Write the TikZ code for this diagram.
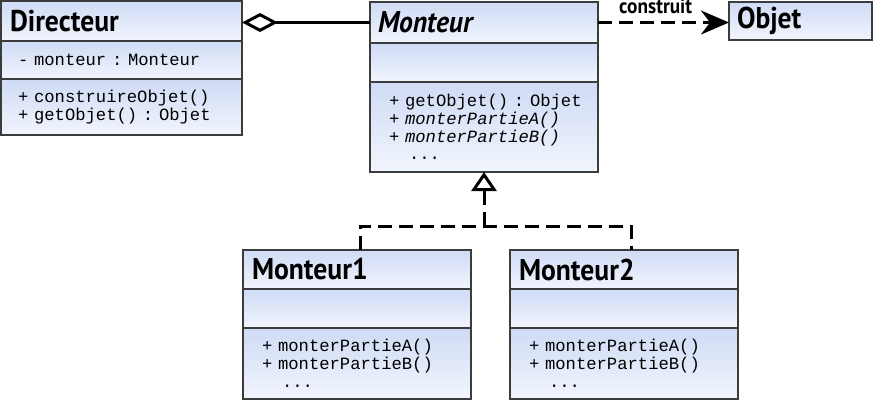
\documentclass[tikz,border=0pt]{standalone}
\usepackage{fontspec}
\usetikzlibrary{positioning, arrows.meta}

\setmonofont{Liberation Mono}
\newfontfamily\umlsans[FakeStretch=0.92]{PT Sans}
\newcommand\membersfont{\ttfamily\frenchspacing\fontsize{17.2}{17.8}\selectfont}
\definecolor{partblue}{RGB}{207,219,245}
\definecolor{partlight}{RGB}{241,245,253}
\definecolor{umlline}{RGB}{60,60,60}

\begin{document}
\begin{tikzpicture}[
    x=1pt, y=-1pt,
    node distance=0pt,
    part/.style = {draw=umlline, line width=1.2pt, top color=partblue, bottom color=partlight,
                   inner ysep=0pt, outer sep=0pt, align=left},
    classname/.style = {part, font=\umlsans\bfseries\fontsize{30}{32}\selectfont},
    members/.style = {part, font=\membersfont},
    dashline/.style = {line width=3pt, dash pattern=on 14pt off 7pt}
]
    \useasboundingbox (0,0) rectangle (873,401);

    % Directeur
    \node [classname, anchor=north west, minimum width=241pt, minimum height=40pt,
           text width=223pt, inner xsep=9pt] (dirT) at (1,1) {Directeur};
    \node [members, below=of dirT, minimum width=241pt, minimum height=38pt,
           text width=207pt, inner xsep=17pt] (dirA) {- monteur : Monteur};
    \node [members, below=of dirA, minimum width=241pt, minimum height=56pt,
           text width=207pt, inner xsep=17pt] (dirM)
          {+ construireObjet()\\ \mbox{+ getObjet() : Objet}};

    % Monteur
    \node [classname, anchor=north west, minimum width=228pt, minimum height=41pt,
           text width=212pt, inner xsep=8pt] (montT) at (370,2) {\itshape Monteur};
    \node [members, below=of montT, minimum width=228pt, minimum height=39pt,
           text width=212pt, inner xsep=8pt] (montA) {};
    \node [members, below=of montA, minimum width=228pt, minimum height=90pt,
           text width=190pt, inner xsep=19pt] (montM)
          {\mbox{+ getObjet() : Objet}\\ {\itshape + monterPartieA()}\\
           {\itshape + monterPartieB()}\\ \hspace*{20pt}...};

    % Objet
    \node [classname, anchor=north west, minimum width=143pt, minimum height=38pt,
           text width=127pt, inner xsep=8pt] (objT) at (729,2) {Objet};

    % Monteur1
    \node [classname, anchor=north west, minimum width=228pt, minimum height=39pt,
           text width=210pt, inner xsep=9pt] (m1T) at (243,250) {Monteur1};
    \node [members, below=of m1T, minimum width=228pt, minimum height=39pt,
           text width=210pt, inner xsep=9pt] (m1A) {};
    \node [members, below=of m1A, minimum width=228pt, minimum height=71pt,
           text width=190pt, inner xsep=19pt] (m1M)
          {+ monterPartieA()\\ + monterPartieB()\\ \hspace*{20pt}...};

    % Monteur2
    \node [classname, right=39pt of m1T, minimum width=228pt, minimum height=39pt,
           text width=210pt, inner xsep=9pt] (m2T) {Monteur2};
    \node [members, below=of m2T, minimum width=228pt, minimum height=39pt,
           text width=210pt, inner xsep=9pt] (m2A) {};
    \node [members, below=of m2A, minimum width=228pt, minimum height=71pt,
           text width=190pt, inner xsep=19pt] (m2M)
          {+ monterPartieA()\\ + monterPartieB()\\ \hspace*{20pt}...};

    % aggregation
    \draw [line width=3pt, -{Diamond[open, length=36pt, width=19pt]}]
        (montT.west) -- (montT.west -| dirT.east);

    % construit
    \draw [dashline, -{Stealth[length=28pt, width=24pt, inset=9pt]}]
        (montT.east) -- node [above=7pt, inner sep=0pt, pos=0.44,
                              font=\umlsans\bfseries\fontsize{21}{23}\selectfont] (lbl) {construit}
        (montT.east -| objT.west);

    % realisation
    \coordinate [below=54pt of montM.south] (fork);
    \draw [dashline] ([xshift=3pt]m1T.north) |- (fork) -| ([xshift=7pt]m2T.north);
    \draw [dashline, -{Triangle[open, length=19pt, width=25pt]}] (fork) -- (montM.south);
\end{tikzpicture}
\end{document}
